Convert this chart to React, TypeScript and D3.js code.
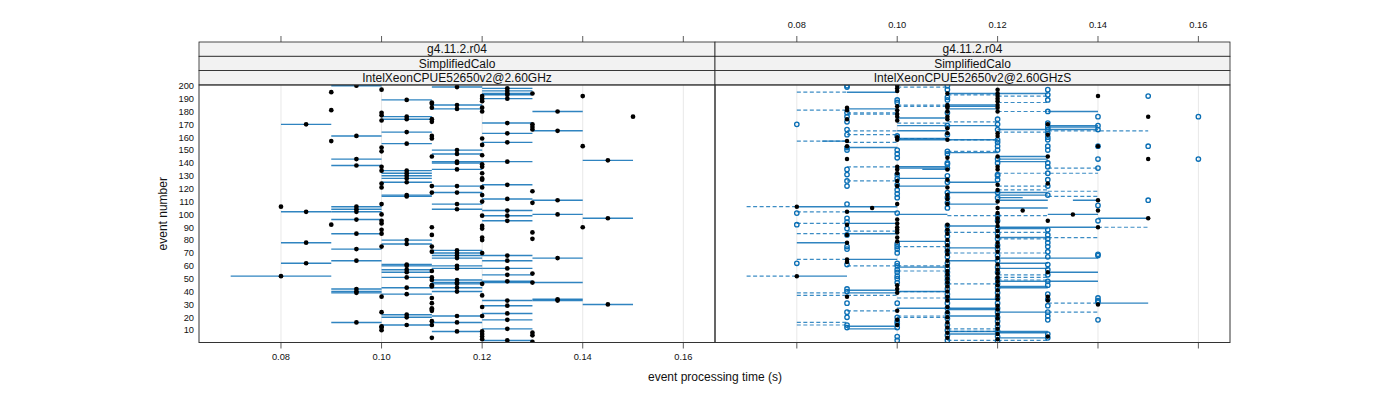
import React from "react";
import * as d3 from "d3";

// ---------- DATA ----------
// Left panel: [event, mean time, half-range]
const leftPoints: [number, number, number][] = [
  [1,.13,0],[2,.125,.005],[3,.12,0],[4,.11,0],[5,.12,0],[6,.13,0],[7,.12,0],[8,.13,0],[9,.12,0],[9,.115,.005],
  [10,.10,0],[11,.125,.005],[12,.10,0],[13,.10,0],[14,.11,0],[14,.105,.005],[16,.095,.005],[16,.115,.005],[17,.11,0],[18,.125,.005],
  [20,.105,.005],[21,.115,.005],[21,.12,0],[22,.105,.005],[23,.125,.005],[24,.10,0],[25,.11,0],[26,.11,0],[27,.11,0],[28,.12,0],
  [29,.125,.005],[30,.145,.005],[31,.11,0],[33,.135,.005],[33,.125,.005],[34,.135,.005],[35,.11,0],[36,.10,0],[37,.12,0],[38,.105,.005],
  [39,.095,.005],[40,.095,.005],[40,.115,.005],[42,.095,.005],[43,.105,.005],[43,.115,.005],[44,.11,0],[45,.11,0],[46,.115,.005],[46,.12,0],
  [47,.115,.005],[47,.13,.01],[48,.125,.005],[49,.115,.005],[49,.11,0],[51,.105,.005],[51,.11,0],[52,.08,.01],[53,.125,.005],[54,.13,0],
  [55,.105,.005],[56,.11,0],[57,.105,.005],[58,.115,.005],[58,.125,.005],[60,.105,.005],[60,.115,.005],[61,.105,.005],[62,.085,.005],[64,.125,.005],
  [64,.095,.005],[66,.115,.005],[66,.135,.005],[68,.115,.005],[68,.125,.005],[70,.12,0],[70,.115,.005],[71,.11,0],[72,.115,.005],[73,.095,.005],
  [75,.11,0],[75,.10,0],[77,.105,.005],[78,.085,.005],[80,.105,.005],[80,.12,0],[81,.13,0],[82,.12,0],[84,.11,0],[85,.10,0],
  [85,.095,.005],[86,.13,0],[88,.10,0],[89,.12,0],[90,.11,0],[90,.14,0],[91,.12,0],[92,.09,0],[93,.10,0],[95,.10,0],
  [95,.125,.005],[96,.095,.005],[97,.145,.005],[99,.12,0],[99,.125,.005],[100,.10,0],[100,.135,.005],[102,.085,.005],[102,.095,.005],[103,.125,.005],
  [104,.115,.005],[104,.095,.005],[106,.08,0],[106,.095,.005],[108,.10,0],[108,.115,.005],[109,.13,0],[110,.12,0],[111,.135,.005],[112,.125,.005],
  [114,.105,.005],[115,.105,.005],[115,.12,0],[117,.11,0],[117,.115,.005],[118,.13,0],[121,.10,0],[121,.12,0],[122,.11,0],[122,.115,.005],
  [123,.125,.005],[124,.10,0],[125,.105,.005],[127,.12,0],[128,.105,.005],[128,.12,0],[130,.105,.005],[132,.105,.005],[132,.12,0],[134,.10,0],
  [134,.105,.005],[135,.115,.005],[137,.10,0],[137,.12,0],[138,.095,.005],[139,.12,0],[140,.115,.005],[141,.125,.005],[141,.115,.005],[142,.145,.005],
  [143,.095,.005],[145,.11,0],[146,.12,0],[147,.115,.005],[149,.10,0],[150,.115,.005],[152,.10,0],[153,.14,0],[154,.12,0],[155,.105,.005],
  [156,.125,.005],[157,.09,0],[159,.11,0],[159,.12,0],[161,.11,0],[161,.095,.005],[163,.125,.005],[164,.105,.005],[165,.135,.005],[166,.13,0],
  [168,.13,0],[170,.085,.005],[170,.13,0],[171,.125,.005],[172,.11,0],[173,.10,0],[174,.105,.005],[174,.11,0],[176,.105,.005],[176,.15,0],
  [177,.10,0],[179,.10,0],[180,.135,.005],[180,.12,0],[181,.09,0],[182,.115,.005],[183,.12,0],[183,.11,0],[185,.115,.005],[186,.11,0],
  [187,.11,0],[188,.12,0],[189,.105,.005],[190,.12,0],[190,.125,.005],[192,.14,0],[192,.12,0],[193,.125,.005],[194,.125,.005],[194,.13,0],
  [195,.09,0],[196,.125,.005],[197,.10,0],[198,.125,.005],[199,.115,.005],[200,.095,.005],
];

// Right panel: filled (black) points [event, time]
const rightFilled: [number, number][] = [
  [183,.09],[181,.09],[174,.09],[157,.09],[153,.09],[143,.09],
  [200,.10],[198,.10],[196,.10],[184,.10],[181,.10],[178,.10],[176,.10],[173,.10],[160,.10],[158,.10],[137,.10],[135,.10],[132,.10],[126,.10],[122,.10],[108,.10],
  [194,.11],[185,.11],[184,.11],[183,.11],[180,.11],[176,.11],[174,.11],[167,.11],[163,.11],[158,.11],[144,.11],[135,.11],[127,.11],[121,.11],[115,.11],[112,.11],[108,.11],
  [197,.12],[194,.12],[192,.12],[190,.12],[188,.12],[185,.12],[183,.12],[180,.12],[163,.12],[161,.12],[145,.12],[137,.12],[135,.12],[123,.12],[119,.12],[110,.12],[105,.12],
  [170,.13],[162,.13],[145,.13],[124,.13],
  [192,.14],[153,.14],[111,.14],[103,.14],
  [176,.15],[143,.15],
  [106,.08],[105,.095],[103,.125],[100,.135],[97,.15],
  [102,.09],[92,.09],[84,.09],[78,.09],[65,.09],[63,.09],[36,.09],
  [96,.10],[93,.10],[90,.10],[88,.10],[86,.10],[82,.10],[79,.10],[45,.10],[42,.10],[39,.10],[25,.10],[18,.10],[14,.10],
  [92,.11],[88,.11],[85,.11],[80,.11],[76,.11],[72,.11],[69,.11],[64,.11],[60,.11],[56,.11],[53,.11],[50,.11],[47,.11],[44,.11],[40,.11],[36,.11],[33,.11],[28,.11],[24,.11],[20,.11],[16,.11],[12,.11],[8,.11],[4,.11],
  [101,.12],[97,.12],[94,.12],[91,.12],[87,.12],[83,.12],[78,.12],[75,.12],[71,.12],[66,.12],[61,.12],[57,.12],[54,.12],[51,.12],[48,.12],[45,.12],[41,.12],[37,.12],[34,.12],[29,.12],[26,.12],[22,.12],[19,.12],[15,.12],[11,.12],[7,.12],[3,.12],
  [95,.13],[55,.13],[36,.13],[33,.13],[5,.13],
  [90,.14],[30,.14],
  [52,.08],
];

// Right panel: open (blue) points [event, time]
const rightOpen: [number, number][] = [
  [170,.08],
  [200,.09],[199,.09],[179,.09],[176,.09],[172,.09],[166,.09],[162,.09],[152,.09],[150,.09],[135,.09],[131,.09],[126,.09],[122,.09],[108,.09],
  [189,.10],[187,.10],[161,.10],[150,.10],[147,.10],[144,.10],[131,.10],[128,.10],[123,.10],[119,.10],[116,.10],[113,.10],
  [200,.11],[197,.11],[191,.11],[189,.11],[179,.11],[169,.11],[162,.11],[149,.11],[147,.11],[140,.11],[139,.11],[136,.11],[130,.11],[125,.11],[117,.11],[113,.11],[109,.11],[105,.11],
  [174,.12],[170,.12],[166,.12],[158,.12],[156,.12],[153,.12],[150,.12],[143,.12],[140,.12],[131,.12],[130,.12],[127,.12],[117,.12],[113,.12],
  [197,.13],[193,.13],[189,.13],[180,.13],[171,.13],[168,.13],[166,.13],[163,.13],[160,.13],[158,.13],[153,.13],[150,.13],[140,.13],[137,.13],[132,.13],[127,.13],[122,.13],[115,.13],
  [176,.14],[169,.14],[166,.14],[153,.14],[143,.14],[136,.14],[107,.14],
  [192,.15],[153,.15],[111,.15],
  [176,.16],[143,.16],
  [101,.08],[92,.08],[62,.08],
  [97,.09],[94,.09],[89,.09],[84,.09],[75,.09],[73,.09],[61,.09],[42,.09],[40,.09],[31,.09],[24,.09],[20,.09],[14,.09],[12,.09],
  [101,.10],[77,.10],[75,.10],[73,.10],[70,.10],[62,.10],[60,.10],[57,.10],[55,.10],[52,.10],[50,.10],[47,.10],[31,.10],[20,.10],[17,.10],[15,.10],[12,.10],[5,.10],[2,.10],
  [91,.11],[87,.11],[83,.11],[78,.11],[74,.11],[71,.11],[67,.11],[62,.11],[58,.11],[55,.11],[52,.11],[49,.11],[46,.11],[42,.11],[38,.11],[35,.11],[31,.11],[27,.11],[23,.11],[19,.11],[14,.11],[10,.11],[6,.11],[2,.11],
  [99,.12],[95,.12],[89,.12],[85,.12],[81,.12],[76,.12],[73,.12],[68,.12],[64,.12],[59,.12],[55,.12],[50,.12],[46,.12],[43,.12],[39,.12],[35,.12],[31,.12],[27,.12],[24,.12],[20,.12],[17,.12],[13,.12],[9,.12],[5,.12],[1,.12],
  [88,.13],[84,.13],[81,.13],[78,.13],[75,.13],[71,.13],[67,.13],[61,.13],[57,.13],[53,.13],[48,.13],[45,.13],[38,.13],[34,.13],[29,.13],[24,.13],[21,.13],[18,.13],[7,.13],[4,.13],
  [95,.14],[69,.14],[68,.14],[35,.14],[33,.14],[32,.14],[18,.14],
];

// Right panel: solid segments [event, from, to]
const rightSolid: [number, number, number][] = [
  [195,.09,.10],[194,.11,.12],[194,.12,.13],[185,.11,.12],[184,.11,.12],[182,.11,.12],[182,.09,.10],[180,.13,.14],[175,.10,.11],[169,.10,.12],
  [169,.13,.14],[168,.13,.14],[166,.12,.14],[165,.10,.11],[159,.10,.11],[158,.10,.12],[157,.085,.09],[152,.09,.10],[148,.11,.12],[145,.12,.13],
  [143,.12,.13],[141,.12,.13],[137,.10,.11],[136,.10,.11],[135,.105,.11],[128,.10,.11],[125,.11,.12],[122,.10,.11],[117,.11,.13],[115,.12,.13],
  [113,.12,.125],[111,.135,.14],[111,.12,.13],[108,.11,.12],[106,.08,.10],[105,.12,.13],
  [102,.09,.10],[100,.10,.11],[100,.13,.14],[97,.14,.15],[93,.09,.10],[91,.11,.12],[90,.12,.14],[89,.12,.13],[85,.09,.10],[82,.12,.13],
  [79,.10,.11],[78,.08,.09],[74,.11,.12],[66,.13,.14],[66,.12,.13],[65,.09,.10],[64,.11,.12],[62,.12,.13],[59,.10,.11],[58,.12,.13],
  [55,.13,.14],[52,.08,.09],[48,.13,.14],[48,.12,.13],[44,.12,.13],[43,.12,.13],[41,.09,.10],[40,.10,.11],[39,.09,.10],[34,.11,.12],
  [31,.14,.15],[27,.10,.12],[26,.11,.12],[24,.12,.13],[21,.11,.12],[13,.09,.10],[11,.09,.10],[9,.11,.13],[8,.12,.13],[7,.11,.12],[4,.12,.13],
];

// Right panel: dashed segments [event, from, to]
const rightDashed: [number, number, number][] = [
  [202,.10,.11],[199,.10,.11],[195,.08,.09],[193,.11,.12],[192,.12,.13],[187,.12,.13],[185,.10,.11],[184,.10,.11],[181,.08,.09],[180,.12,.13],
  [179,.09,.10],[178,.09,.10],[172,.11,.12],[171,.10,.11],[165,.13,.15],[164,.12,.13],[165,.09,.10],[162,.09,.10],[159,.10,.11],[158,.11,.12],
  [157,.08,.09],[156,.09,.10],[149,.11,.12],[137,.09,.10],[136,.13,.14],[132,.12,.14],[126,.09,.10],[122,.12,.13],[119,.12,.13],[118,.13,.14],
  [114,.13,.14],[106,.07,.08],
  [102,.08,.09],[99,.11,.12],[99,.12,.13],[90,.14,.15],[93,.08,.09],[87,.09,.10],[86,.11,.12],[86,.12,.13],[85,.08,.09],[82,.13,.14],
  [81,.12,.13],[75,.10,.11],[70,.11,.12],[70,.12,.13],[65,.08,.09],[60,.09,.10],[60,.10,.11],[56,.10,.11],[53,.12,.13],[52,.07,.08],
  [51,.12,.13],[49,.12,.13],[46,.11,.12],[40,.10,.11],[39,.08,.09],[37,.08,.09],[37,.09,.10],[35,.10,.11],[31,.13,.14],[25,.09,.10],
  [24,.13,.14],[21,.10,.11],[20,.10,.11],[16,.08,.09],[14,.08,.09],[11,.11,.12],[9,.11,.12],[2,.11,.12],[2,.12,.13],
];

const xTicks = [0.08, 0.10, 0.12, 0.14, 0.16];
const yTicks = [10, 20, 30, 40, 50, 60, 70, 80, 90, 100, 110, 120, 130, 140, 150, 160, 170, 180, 190, 200];
const stripLines = ["g4.11.2.r04", "SimplifiedCalo"];
const panelNames = ["IntelXeonCPUE52650v2@2.60GHz", "IntelXeonCPUE52650v2@2.60GHzS"];

// ---------- LAYOUT ----------
const W = 1400, H = 400;
const top = 85, bottom = 342.5;
const panelX = [[199, 715], [715, 1230]];
const stripTop = 42, stripH = 14.3;
const FONT = "'Liberation Sans', Arial, Helvetica, sans-serif";
const BLUE = "#0a6fb5";

const yScale = d3.scaleLinear().domain([0.4, 200.6]).range([bottom, top]);
const xScales = panelX.map(([a, b]) => d3.scaleLinear().domain([0.0637, 0.1663]).range([a, b]));
const fmt = d3.format(".2f");

export default function App() {
  const [xl, xr] = xScales;
  return (
    <svg width={W} height={H} style={{ display: "block", position: "absolute", left: 0, top: 0 }} fontFamily={FONT}>
      <rect width={W} height={H} fill="#fff" />
      {/* grid */}
      {xScales.map((xs, p) =>
        xTicks.map((t) => (
          <line key={`g${p}-${t}`} x1={xs(t)} x2={xs(t)} y1={top} y2={bottom} stroke="#e8e8e8" strokeWidth={1} />
        ))
      )}
      {/* strips */}
      {panelX.map(([a, b], p) => (
        <g key={`s${p}`}>
          {[...stripLines, panelNames[p]].map((s, i) => (
            <g key={i}>
              <rect x={a} y={stripTop + i * stripH} width={b - a} height={stripH} fill="#f2f2f2" stroke="#222" strokeWidth={0.8} />
              <text x={(a + b) / 2} y={stripTop + i * stripH + stripH / 2 + 4.3} textAnchor="middle" fontSize={12} fill="#111">
                {s}
              </text>
            </g>
          ))}
        </g>
      ))}
      <defs>
        <clipPath id="clipL"><rect x={panelX[0][0]} y={top} width={panelX[0][1] - panelX[0][0]} height={bottom - top} /></clipPath>
        <clipPath id="clipR"><rect x={panelX[1][0]} y={top} width={panelX[1][1] - panelX[1][0]} height={bottom - top} /></clipPath>
      </defs>
      {/* left panel */}
      <g clipPath="url(#clipL)">
        {leftPoints.filter((d) => d[2] > 0).map((d, i) => (
          <line key={`ll${i}`} x1={xl(d[1] - d[2])} x2={xl(d[1] + d[2])} y1={yScale(d[0])} y2={yScale(d[0])} stroke={BLUE} strokeWidth={1.4} strokeOpacity={0.85} />
        ))}
        {leftPoints.map((d, i) => (
          <circle key={`lp${i}`} cx={xl(d[1])} cy={yScale(d[0])} r={2.35} fill="#000" />
        ))}
      </g>
      {/* right panel */}
      <g clipPath="url(#clipR)">
        {rightDashed.map((d, i) => (
          <line key={`rd${i}`} x1={xr(d[1])} x2={xr(d[2])} y1={yScale(d[0])} y2={yScale(d[0])} stroke={BLUE} strokeWidth={1.2} strokeOpacity={0.8} strokeDasharray="4,2.5" />
        ))}
        {rightSolid.map((d, i) => (
          <line key={`rs${i}`} x1={xr(d[1])} x2={xr(d[2])} y1={yScale(d[0])} y2={yScale(d[0])} stroke={BLUE} strokeWidth={1.4} strokeOpacity={0.85} />
        ))}
        {rightOpen.map((d, i) => (
          <circle key={`ro${i}`} cx={xr(d[1])} cy={yScale(d[0])} r={2.2} fill="none" stroke={BLUE} strokeWidth={1.35} />
        ))}
        {rightFilled.map((d, i) => (
          <circle key={`rf${i}`} cx={xr(d[1])} cy={yScale(d[0])} r={2.25} fill="#000" />
        ))}
      </g>
      {/* panel borders */}
      {panelX.map(([a, b], p) => (
        <rect key={`b${p}`} x={a} y={top} width={b - a} height={bottom - top} fill="none" stroke="#333" strokeWidth={1} />
      ))}
      {/* x ticks: top and bottom for both panels */}
      {xScales.map((xs, p) =>
        xTicks.map((t) => (
          <g key={`xt${p}-${t}`}>
            <line x1={xs(t)} x2={xs(t)} y1={stripTop} y2={stripTop - 6} stroke="#333" strokeWidth={0.8} />
            <line x1={xs(t)} x2={xs(t)} y1={bottom} y2={bottom + 6} stroke="#333" strokeWidth={0.8} />
          </g>
        ))
      )}
      {xTicks.map((t) => (
        <text key={`xb${t}`} x={xl(t)} y={360} textAnchor="middle" fontSize={9.3} fill="#111">{fmt(t)}</text>
      ))}
      {xTicks.map((t) => (
        <text key={`xtop${t}`} x={xr(t)} y={27.5} textAnchor="middle" fontSize={9.3} fill="#111">{fmt(t)}</text>
      ))}
      {/* y ticks */}
      {yTicks.map((t) => (
        <text key={`y${t}`} x={194} y={yScale(t) + 3.3} textAnchor="end" fontSize={9.3} fill="#111">{t}</text>
      ))}
      {/* axis titles */}
      <text x={715} y={381} textAnchor="middle" fontSize={12} fill="#111">event processing time (s)</text>
      <text transform={`translate(167,${(top + bottom) / 2}) rotate(-90)`} textAnchor="middle" fontSize={12} fill="#111">event number</text>
    </svg>
  );
}
